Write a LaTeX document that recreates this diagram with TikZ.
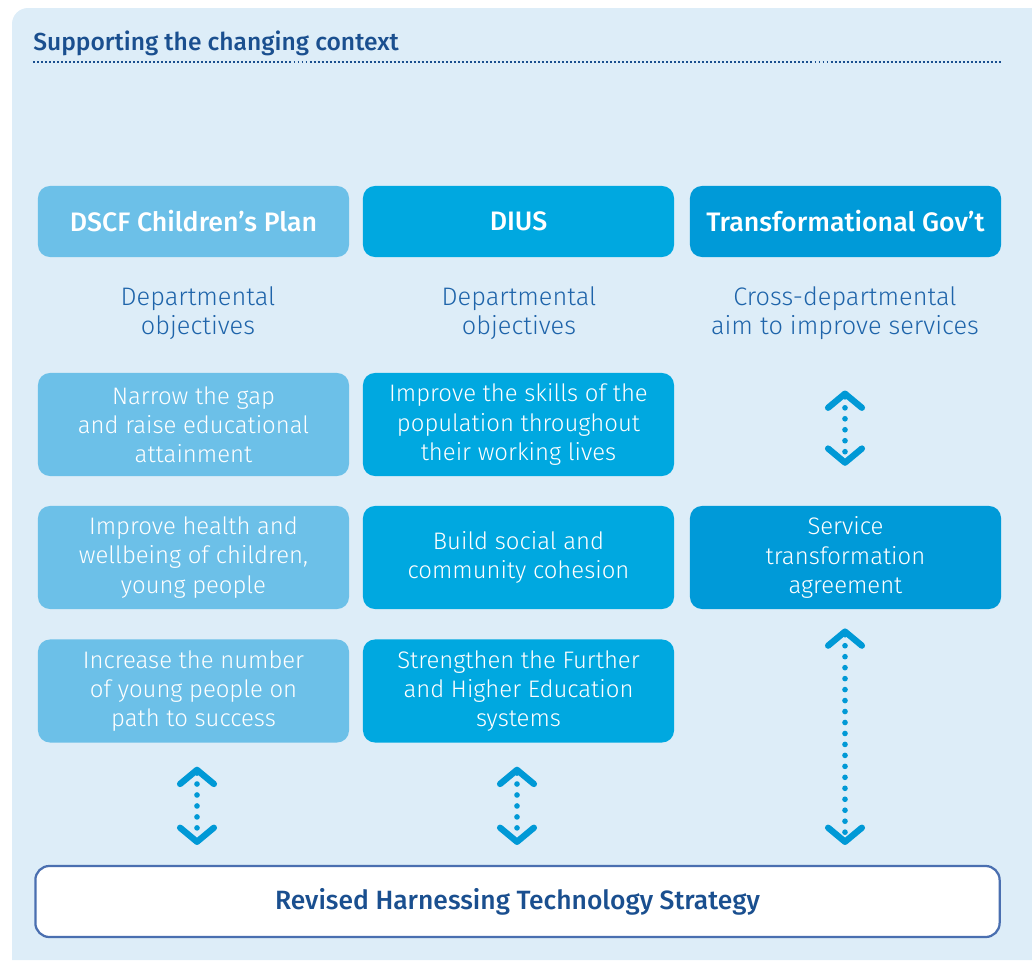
\documentclass[tikz,border=0pt]{standalone}
\usepackage{fontspec}
\setmainfont{Fira Sans}[UprightFont=* Light,BoldFont=* Medium]
\usepackage{tikz}
\usetikzlibrary{positioning,arrows.meta}
\definecolor{panelblue}{HTML}{DDEDF8}
\definecolor{planblue}{HTML}{6CC0E8}
\definecolor{diusblue}{HTML}{00A8E0}
\definecolor{govblue}{HTML}{009AD8}
\definecolor{inkblue}{HTML}{1E64AA}
\definecolor{navyblue}{HTML}{1A4F8F}
\definecolor{frameblue}{HTML}{4A6FB0}
\definecolor{linkblue}{HTML}{0099D6}

\begin{document}
\begin{tikzpicture}[x=0.025cm,y=-0.025cm,
    head/.style={rectangle,rounded corners=0.3cm,minimum width=7.775cm,minimum height=1.775cm,inner sep=0pt,text=white,font=\fontsize{19}{20}\selectfont\bfseries},
    aim/.style={rectangle,rounded corners=0.3cm,minimum width=7.775cm,minimum height=2.575cm,inner sep=0pt,text=white,align=center,font=\fontsize{17}{20.8}\selectfont},
    note/.style={text=inkblue,align=center,font=\fontsize{18}{20.8}\selectfont},
    link/.style={linkblue,line width=4pt,line cap=round,dash pattern=on 0pt off 7.8pt,
        {Straight Barb[length=10pt,width=24pt,line width=4.5pt,round,sep=2.5pt]}-{Straight Barb[length=10pt,width=24pt,line width=4.5pt,round,sep=2.5pt]}}]

    \useasboundingbox (0,0) rectangle (1032,960);
    \fill[panelblue] (12,960) [rounded corners=0.4cm] -- (12,8) [sharp corners] -- (1032,8) -- (1032,960) -- cycle;

    % Title
    \node[anchor=base west,inner sep=0pt,text=navyblue,font=\fontsize{17.5}{20}\selectfont\bfseries] (title) at (33,50) {Supporting the changing context};
    \draw[navyblue,line width=1.4pt,dash pattern=on 1.4pt off 1.45pt] (33,62) -- (1001,62);

    % Column heads
    \node[head,fill=planblue] (plan) at (193.5,221.5) {DSCF Children’s Plan};
    \node[head,fill=diusblue] (dius) at (518.5,221.5) {DIUS};
    \node[head,fill=govblue] (gov) at (845.5,221.5) {Transformational Gov’t};

    % Notes
    \node[note] (plannote) at (198,313) {Departmental\\objectives};
    \node[note] (diusnote) at (519,313) {Departmental\\objectives};
    \node[note] (govnote) at (845,313) {Cross-departmental\\aim to improve services};

    % DSCF objectives
    \node[aim,fill=planblue] (plan1) at (193.5,424.5) {Narrow the gap\\and raise educational\\attainment};
    \node[aim,fill=planblue] (plan2) at (193.5,557.5) {Improve health and\\wellbeing of children,\\young people};
    \node[aim,fill=planblue] (plan3) at (193.5,691) {Increase the number\\of young people on\\path to success};

    % DIUS objectives
    \node[aim,fill=diusblue] (dius1) at (518.5,424.5) {Improve the skills of the\\population throughout\\their working lives};
    \node[aim,fill=diusblue] (dius2) at (518.5,557.5) {Build social and\\community cohesion};
    \node[aim,fill=diusblue] (dius3) at (518.5,691) {Strengthen the Further\\and Higher Education\\systems};

    % Service transformation
    \node[aim,fill=govblue] (gov2) at (845.5,557.5) {Service\\transformation\\agreement};

    % Strategy
    \node[rectangle,draw=frameblue,line width=1.6pt,fill=white,rounded corners=0.35cm,minimum width=24.1cm,minimum height=1.775cm,text=navyblue,font=\fontsize{18.8}{20}\selectfont\bfseries] (strategy) at (517.5,901.5) {Revised Harnessing Technology Strategy};

    % Links
    \draw[link] ([yshift=-0.51cm]plan3.south -| 197,0) -- ([yshift=0.41cm]strategy.north -| 197,0);
    \draw[link] ([yshift=-0.51cm]dius3.south -| 517,0) -- ([yshift=0.41cm]strategy.north -| 517,0);
    \draw[link] ([yshift=-1.06cm]govnote.south -| 845,0) -- ([yshift=0.91cm]gov2.north -| 845,0);
    \draw[link] ([yshift=-0.39cm]gov2.south -| 845,0) -- ([yshift=0.41cm]strategy.north -| 845,0);

\end{tikzpicture}
\end{document}
